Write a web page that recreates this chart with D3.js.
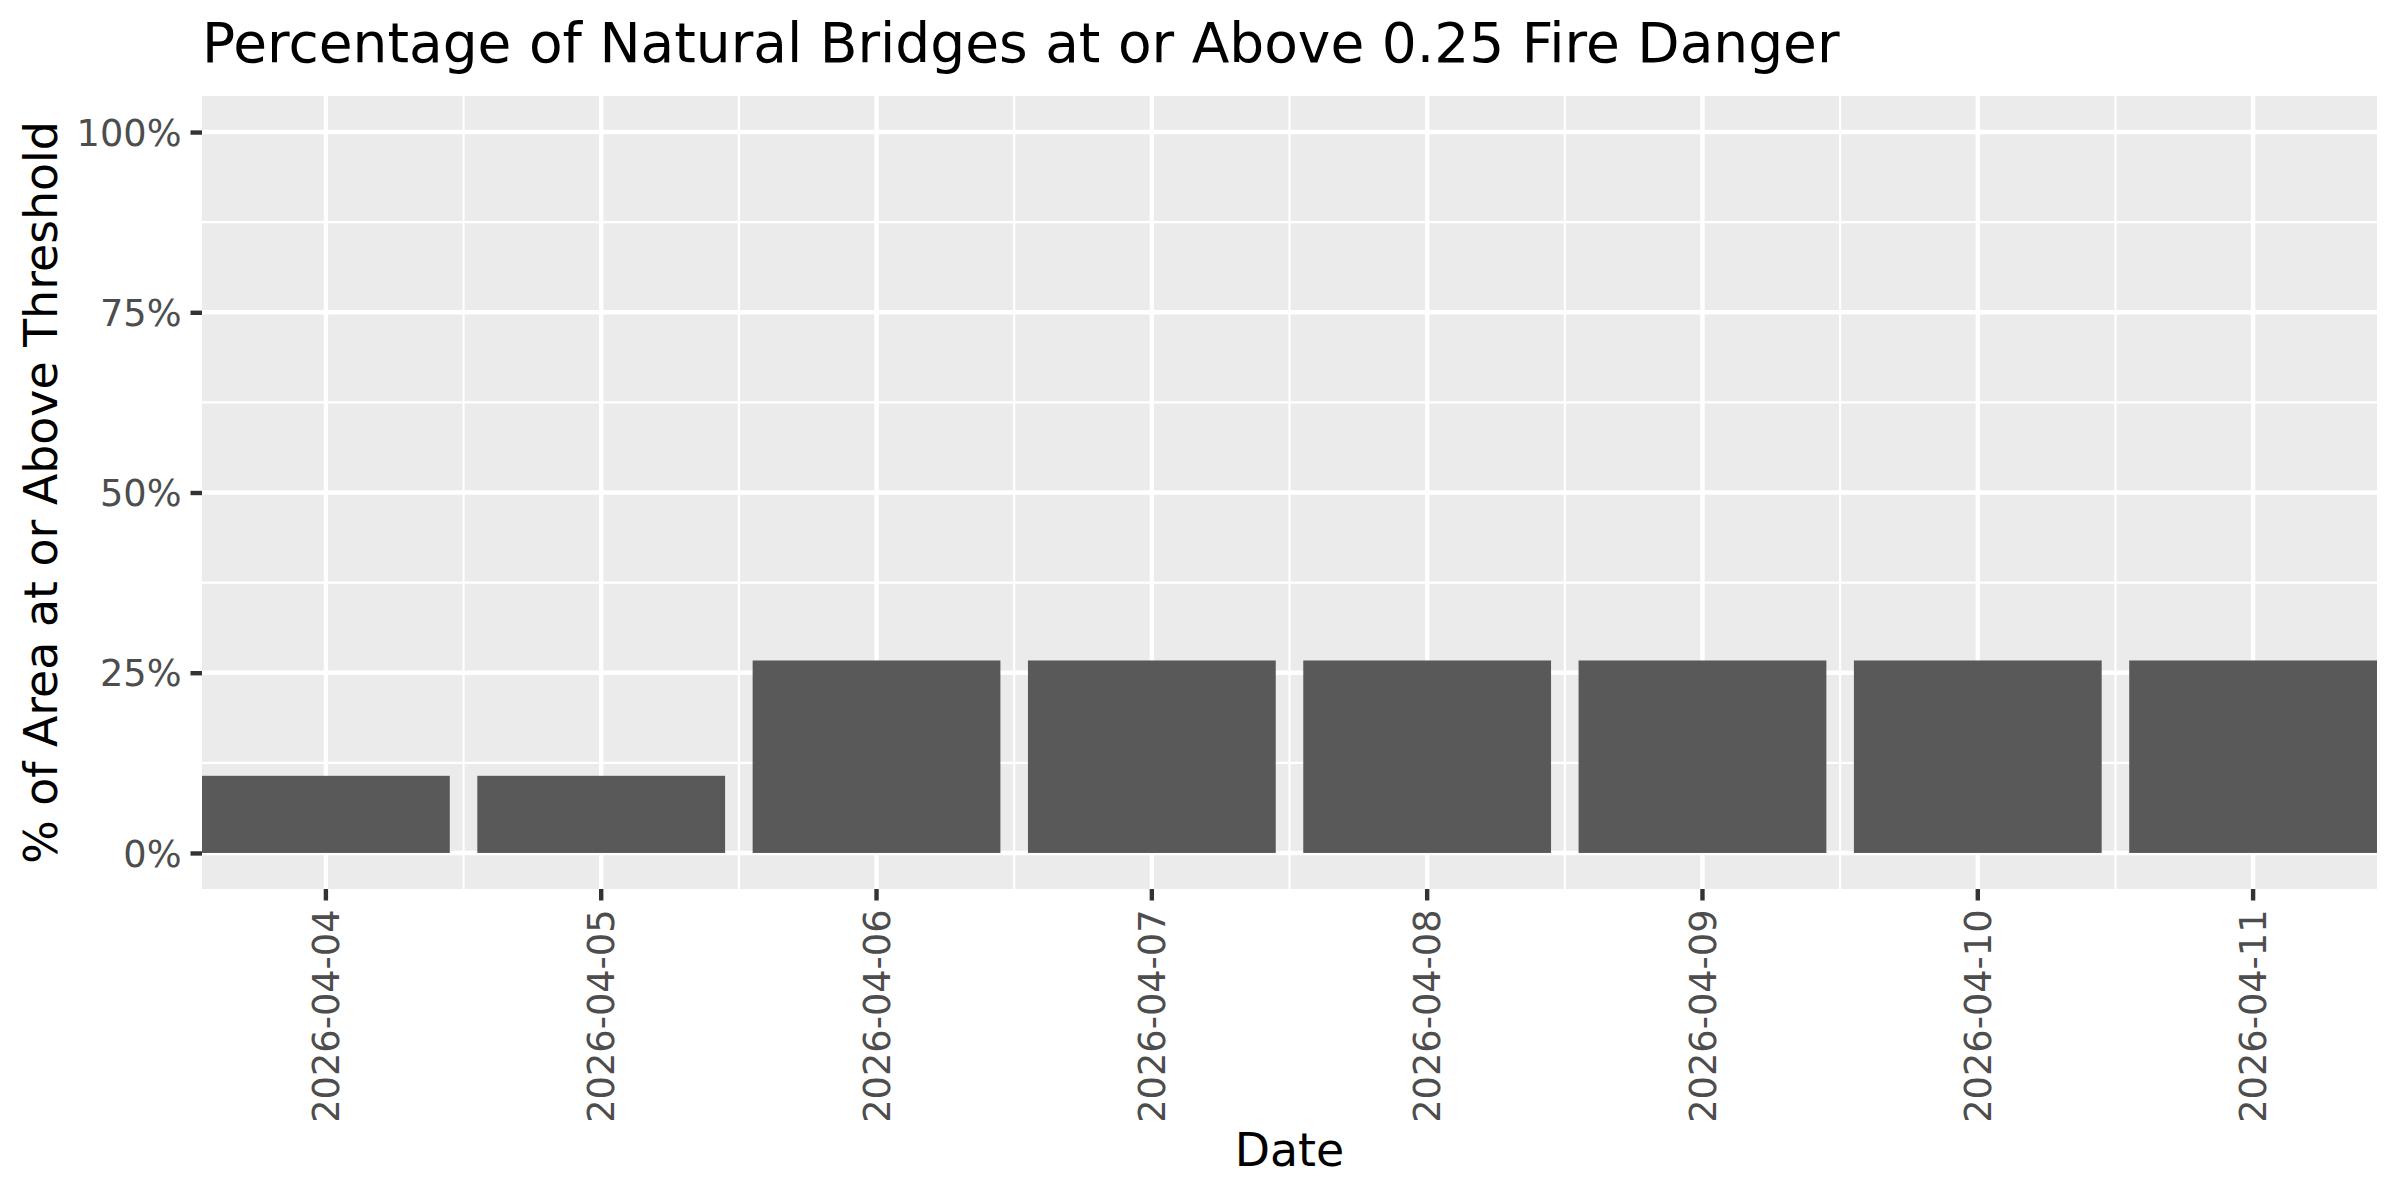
<!doctype html>
<html>
<head>
    <meta charset="utf-8">
    <title>Fire danger</title>
    <style>
    body {
        margin: 0;
        background: #fff;
    }
    text {
        font-family: "DejaVu Sans", sans-serif;
    }
    </style>
    <script src="https://cdn.jsdelivr.net/npm/d3@7"></script>
</head>
<body>
    <script>
    // data
    var dates = ["2026-04-04", "2026-04-05", "2026-04-06", "2026-04-07",
        "2026-04-08", "2026-04-09", "2026-04-10", "2026-04-11"];
    var pctAbove = [0.107, 0.107, 0.267, 0.267, 0.267, 0.267, 0.267, 0.267];
    var yTicks = [0, 0.25, 0.5, 0.75, 1];
    var yMinor = [0.125, 0.375, 0.625, 0.875];

    var w = 2400,
        h = 1200,
        panelLeft = 202,
        panelRight = 2377,
        panelTop = 96,
        panelBottom = 889;

    var svg = d3.select("body").append("svg")
        .attr("width", w)
        .attr("height", h);

    var x = d3.scaleBand()
        .domain(dates)
        .range([panelLeft, panelRight])
        .paddingInner(0.1)
        .paddingOuter(0);

    var y = d3.scaleLinear()
        .domain([-0.05, 1.05])
        .range([panelBottom, panelTop]);

    var step = x.step();
    var centre = function(d) { return x(d) + x.bandwidth() / 2; };

    // panel
    svg.append("rect")
        .attr("x", panelLeft)
        .attr("y", panelTop)
        .attr("width", panelRight - panelLeft)
        .attr("height", panelBottom - panelTop)
        .attr("fill", "#EBEBEB");

    // minor grid
    svg.selectAll(".hminor")
        .data(yMinor)
        .enter().append("line")
        .attr("x1", panelLeft).attr("x2", panelRight)
        .attr("y1", y).attr("y2", y)
        .attr("stroke", "#fff").attr("stroke-width", 2.2);

    svg.selectAll(".vminor")
        .data(dates.slice(1))
        .enter().append("line")
        .attr("x1", function(d) { return centre(d) - step / 2; })
        .attr("x2", function(d) { return centre(d) - step / 2; })
        .attr("y1", panelTop).attr("y2", panelBottom)
        .attr("stroke", "#fff").attr("stroke-width", 2.2);

    // major grid
    svg.selectAll(".hmajor")
        .data(yTicks)
        .enter().append("line")
        .attr("x1", panelLeft).attr("x2", panelRight)
        .attr("y1", y).attr("y2", y)
        .attr("stroke", "#fff").attr("stroke-width", 4.4);

    svg.selectAll(".vmajor")
        .data(dates)
        .enter().append("line")
        .attr("x1", centre).attr("x2", centre)
        .attr("y1", panelTop).attr("y2", panelBottom)
        .attr("stroke", "#fff").attr("stroke-width", 4.4);

    // bars
    svg.selectAll(".bar")
        .data(dates)
        .enter().append("rect")
        .attr("x", function(d) { return x(d); })
        .attr("width", x.bandwidth())
        .attr("y", function(d, i) { return y(pctAbove[i]); })
        .attr("height", function(d, i) { return y(0) - y(pctAbove[i]); })
        .attr("fill", "#595959");

    // axes
    var yAxis = svg.append("g")
        .attr("transform", "translate(" + panelLeft + ",0)")
        .call(d3.axisLeft(y)
            .tickValues(yTicks)
            .tickFormat(d3.format(".0%"))
            .tickSize(11.5)
            .tickPadding(9));

    var xAxis = svg.append("g")
        .attr("transform", "translate(0," + panelBottom + ")")
        .call(d3.axisBottom(x)
            .tickSize(11.5)
            .tickPadding(9));

    [xAxis, yAxis].forEach(function(g) {
        g.select(".domain").remove();
        g.selectAll(".tick line")
            .attr("stroke", "#333333")
            .attr("stroke-width", 4.4);
        g.selectAll(".tick text")
            .attr("fill", "#4D4D4D")
            .style("font-size", "36.7px")
            .style("font-family", "'DejaVu Sans', sans-serif");
    });

    yAxis.selectAll(".tick text")
        .attr("dy", "0.36em");

    xAxis.selectAll(".tick text")
        .attr("transform", "rotate(-90)")
        .attr("text-anchor", "end")
        .attr("x", -20.5)
        .attr("y", 0)
        .attr("dy", "0.36em");

    // titles
    svg.append("text")
        .attr("x", panelLeft)
        .attr("y", 62)
        .attr("fill", "#000")
        .style("font-size", "55px")
        .text("Percentage of Natural Bridges at or Above 0.25 Fire Danger");

    svg.append("text")
        .attr("x", (panelLeft + panelRight) / 2)
        .attr("y", 1166)
        .attr("text-anchor", "middle")
        .attr("fill", "#000")
        .style("font-size", "45.8px")
        .text("Date");

    svg.append("text")
        .attr("transform", "translate(57," + (panelTop + panelBottom) / 2 + ")rotate(-90)")
        .attr("text-anchor", "middle")
        .attr("fill", "#000")
        .style("font-size", "45.8px")
        .text("% of Area at or Above Threshold");
    </script>
</body>
</html>
